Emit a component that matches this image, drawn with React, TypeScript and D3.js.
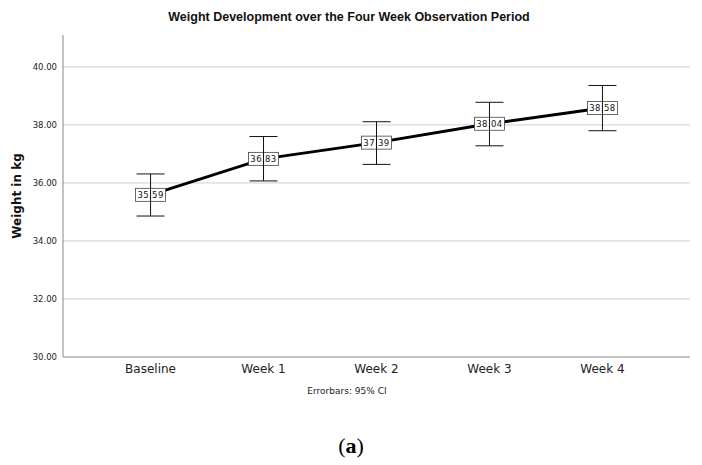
import React, { useEffect, useRef } from 'react';
import * as d3 from 'd3';

const categories = ['Baseline', 'Week 1', 'Week 2', 'Week 3', 'Week 4'];
const means = [35.59, 36.83, 37.39, 38.04, 38.58];
const ciLower = [34.86, 36.07, 36.64, 37.28, 37.8];
const ciUpper = [36.31, 37.6, 38.11, 38.78, 39.36];
const yTicks = [30, 32, 34, 36, 38, 40];

const width = 702;
const height = 465;
const margin = { top: 35, right: 12, bottom: 108, left: 63 };
const font = '"DejaVu Sans", sans-serif';

const App: React.FC = () => {
    const svgRef = useRef<SVGSVGElement | null>(null);

    useEffect(() => {
        if (!svgRef.current) return;
        const svg = d3.select(svgRef.current);
        svg.selectAll('*').remove();

        const x = d3.scaleBand<string>()
            .domain(categories)
            .range([margin.left, width - margin.right])
            .paddingInner(0)
            .paddingOuter(0.275);
        const cx = (c: string) => (x(c) as number) + x.bandwidth() / 2;

        const y = d3.scaleLinear()
            .domain([30, 41.1])
            .range([height - margin.bottom, margin.top]);

        svg.append('rect')
            .attr('width', width)
            .attr('height', height)
            .attr('fill', '#fff');

        // title
        svg.append('text')
            .attr('x', 349)
            .attr('y', 21)
            .attr('text-anchor', 'middle')
            .attr('font-family', '"Liberation Sans", Arial, sans-serif')
            .attr('font-weight', 'bold')
            .attr('font-size', 12.5)
            .attr('fill', '#111')
            .text('Weight Development over the Four Week Observation Period');

        // gridlines
        svg.append('g')
            .selectAll('line')
            .data(yTicks.filter(t => t !== 30))
            .enter()
            .append('line')
            .attr('x1', margin.left)
            .attr('x2', width - margin.right)
            .attr('y1', d => y(d))
            .attr('y2', d => y(d))
            .attr('stroke', '#cfcfcf')
            .attr('stroke-width', 1);

        // y tick labels
        svg.append('g')
            .selectAll('text')
            .data(yTicks)
            .enter()
            .append('text')
            .attr('x', margin.left - 6)
            .attr('y', d => y(d))
            .attr('dy', '0.35em')
            .attr('text-anchor', 'end')
            .attr('font-family', font)
            .attr('font-size', 8.5)
            .attr('fill', '#222')
            .text(d => d.toFixed(2));

        // axes lines
        svg.append('line')
            .attr('x1', margin.left)
            .attr('x2', margin.left)
            .attr('y1', margin.top)
            .attr('y2', y(30))
            .attr('stroke', '#888')
            .attr('stroke-width', 1);
        svg.append('line')
            .attr('x1', margin.left)
            .attr('x2', width - margin.right)
            .attr('y1', y(30))
            .attr('y2', y(30))
            .attr('stroke', '#888')
            .attr('stroke-width', 1);

        // y title
        svg.append('text')
            .attr('transform', `translate(21,${(margin.top + y(30)) / 2}) rotate(-90)`)
            .attr('text-anchor', 'middle')
            .attr('font-family', font)
            .attr('font-weight', 'bold')
            .attr('font-size', 12)
            .attr('fill', '#111')
            .text('Weight in kg');

        // x labels
        svg.append('g')
            .selectAll('text')
            .data(categories)
            .enter()
            .append('text')
            .attr('x', d => cx(d))
            .attr('y', y(30) + 16)
            .attr('text-anchor', 'middle')
            .attr('font-family', font)
            .attr('font-size', 12)
            .attr('fill', '#222')
            .text(d => d);

        svg.append('text')
            .attr('x', 347)
            .attr('y', 394)
            .attr('text-anchor', 'middle')
            .attr('font-family', font)
            .attr('font-size', 9)
            .attr('fill', '#222')
            .text('Errorbars: 95% CI');

        // mean line
        const line = d3.line<number>()
            .x((_, i) => cx(categories[i]))
            .y(d => y(d));
        svg.append('path')
            .attr('d', line(means))
            .attr('fill', 'none')
            .attr('stroke', '#000')
            .attr('stroke-width', 3);

        // labels + error bars
        const pts = svg.append('g')
            .selectAll('g')
            .data(categories)
            .enter()
            .append('g');

        pts.append('rect')
            .attr('x', d => cx(d) - 15)
            .attr('y', (_, i) => y(means[i]) - 6.5)
            .attr('width', 30)
            .attr('height', 13)
            .attr('fill', '#fff')
            .attr('stroke', '#444')
            .attr('stroke-width', 0.8);

        pts.append('text')
            .attr('x', d => cx(d))
            .attr('y', (_, i) => y(means[i]))
            .attr('dy', '0.36em')
            .attr('text-anchor', 'middle')
            .attr('font-family', font)
            .attr('font-size', 8.5)
            .attr('letter-spacing', 0.4)
            .attr('fill', '#111')
            .text((_, i) => means[i].toFixed(2));

        pts.append('line')
            .attr('x1', d => cx(d))
            .attr('x2', d => cx(d))
            .attr('y1', (_, i) => y(ciLower[i]))
            .attr('y2', (_, i) => y(ciUpper[i]))
            .attr('stroke', '#111')
            .attr('stroke-width', 1);

        [ciLower, ciUpper].forEach(arr => {
            pts.append('line')
                .attr('x1', d => cx(d) - 14)
                .attr('x2', d => cx(d) + 14)
                .attr('y1', (_, i) => y(arr[i]))
                .attr('y2', (_, i) => y(arr[i]))
                .attr('stroke', '#111')
                .attr('stroke-width', 1);
        });

        // panel caption
        const cap = svg.append('text')
            .attr('x', 351)
            .attr('y', 453)
            .attr('text-anchor', 'middle')
            .attr('font-family', '"Liberation Serif", serif')
            .attr('font-size', 22)
            .attr('fill', '#000');
        cap.append('tspan').text('(');
        cap.append('tspan').attr('font-weight', 'bold').text('a');
        cap.append('tspan').text(')');
    }, []);

    return (
        <svg
            ref={svgRef}
            width={width}
            height={height}
            style={{ position: 'absolute', left: 0, top: 0, display: 'block' }}
        />
    );
};

export default App;
